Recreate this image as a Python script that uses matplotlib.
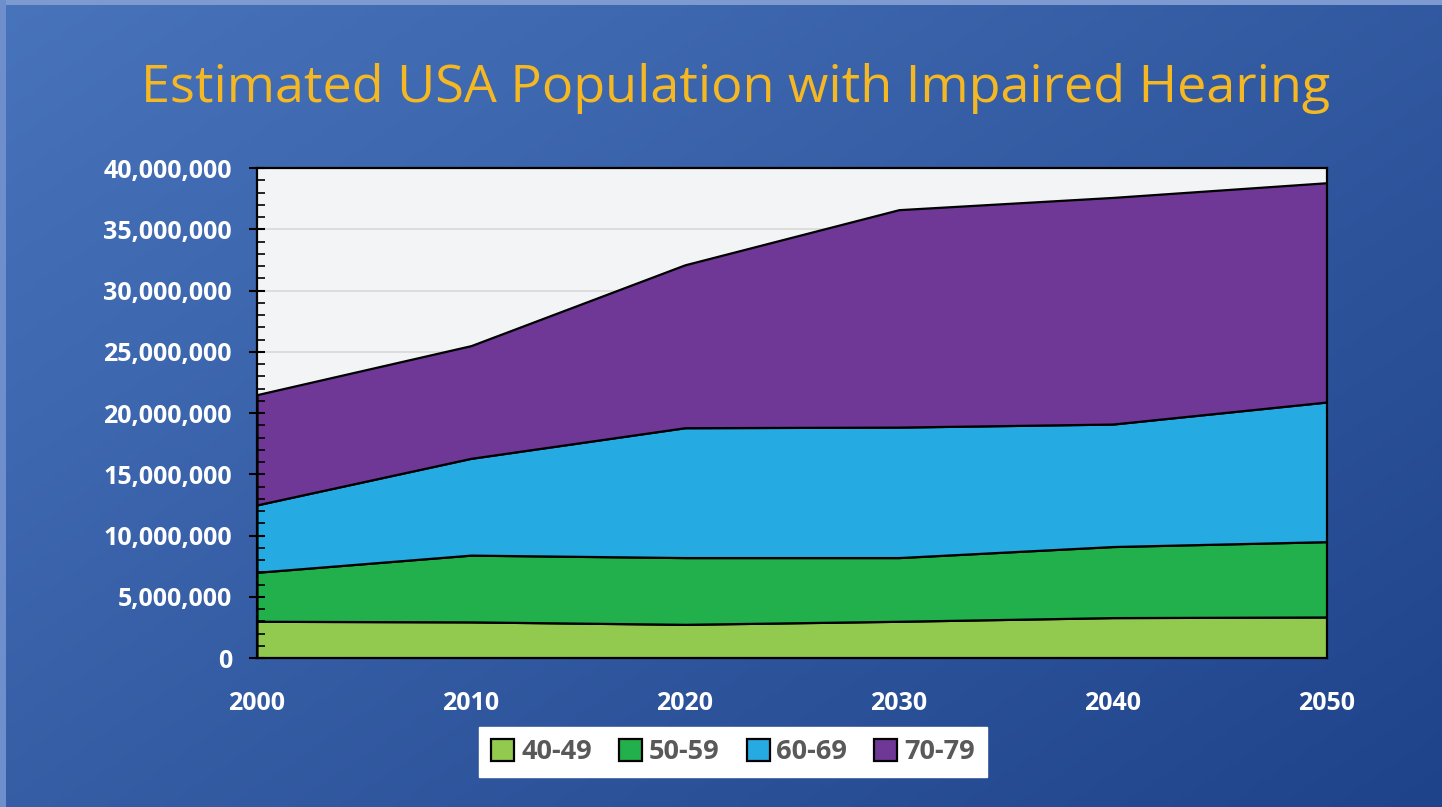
import numpy as np
import matplotlib.pyplot as plt
from matplotlib.ticker import FuncFormatter, MultipleLocator

years = [2000, 2010, 2020, 2030, 2040, 2050]
age_groups = ["40-49", "50-59", "60-69", "70-79"]
age_40_49 = [3.0, 2.95, 2.75, 3.0, 3.3, 3.35]
age_50_59 = [4.0, 5.45, 5.45, 5.2, 5.8, 6.15]
age_60_69 = [5.5, 7.9, 10.6, 10.65, 10.0, 11.4]
age_70_79 = [9.0, 9.2, 13.3, 17.75, 18.5, 17.9]
colors = ["#92c94f", "#21b04b", "#25aae1", "#6f3796"]

plt.rcParams['font.family'] = ['Open Sans', 'DejaVu Sans']

fig = plt.figure(figsize=(14.42, 8.07), dpi=100)

# background gradient
bg = fig.add_axes([0, 0, 1, 1], zorder=-10)
xx, yy = np.meshgrid(np.linspace(0, 1, 300), np.linspace(0, 1, 200))
t = np.clip(0.55 * xx + 0.45 * yy, 0, 1)
c0 = np.array([0x48, 0x74, 0xbc]) / 255
c1 = np.array([0x1f, 0x43, 0x8a]) / 255
img = c0[None, None, :] * (1 - t[..., None]) + c1[None, None, :] * t[..., None]
bg.imshow(img, aspect="auto", extent=[0, 1, 0, 1], origin="upper")
bg.axhspan(0.994, 1, color="#7d9bd0", lw=0)
bg.axvspan(0, 0.004, color="#6e8fcc", lw=0)
bg.set_xlim(0, 1)
bg.set_ylim(0, 1)
bg.axis("off")

ax = fig.add_axes([0.1782, 0.1846, 0.742, 0.6072])
ax.set_facecolor("#f3f4f6")

data = np.array([age_40_49, age_50_59, age_60_69, age_70_79]) * 1e6
ax.stackplot(years, data, colors=colors, labels=age_groups,
             edgecolor="black", linewidth=1.6, zorder=2)

ax.set_xlim(2000, 2050)
ax.set_ylim(0, 40e6)
ax.set_xticks(years)
ax.yaxis.set_major_locator(MultipleLocator(5e6))
ax.yaxis.set_minor_locator(MultipleLocator(1e6))
ax.yaxis.set_major_formatter(FuncFormatter(lambda v, p: f"{int(v):,}"))
# gridlines below the areas, ticks above them
ax.set_axisbelow(False)
for v in ax.get_yticks()[1:-1]:
    ax.axhline(v, color="#d9d9d9", linewidth=1.2, zorder=1)

for s in ax.spines.values():
    s.set_color("black")
    s.set_linewidth(1.6)
    s.set_zorder(5)

ax.tick_params(axis="y", which="major", direction="inout", length=12, width=1.5,
               colors="black", labelcolor="white", labelsize=18, pad=12)
ax.tick_params(axis="y", which="minor", direction="in", length=6, width=1.2, colors="black")
ax.tick_params(axis="x", length=0, labelcolor="white", labelsize=18, pad=24)
for lbl in ax.get_yticklabels() + ax.get_xticklabels():
    lbl.set_fontweight("bold")

fig.text(0.51, 0.89, "Estimated USA Population with Impaired Hearing",
         ha="center", va="center", color="#f5b822", fontsize=37.5)

leg = ax.legend(loc="upper center", bbox_to_anchor=(0.445, -0.113), ncol=4,
                frameon=True, fancybox=False, edgecolor="white", facecolor="white",
                framealpha=1, handlelength=0.85, handleheight=0.85, handletextpad=0.25,
                columnspacing=1.0, borderpad=0.45, prop={"size": 19.5, "weight": "bold"})
for txt in leg.get_texts():
    txt.set_color("#595959")

fig.savefig("out.png", dpi=100)
